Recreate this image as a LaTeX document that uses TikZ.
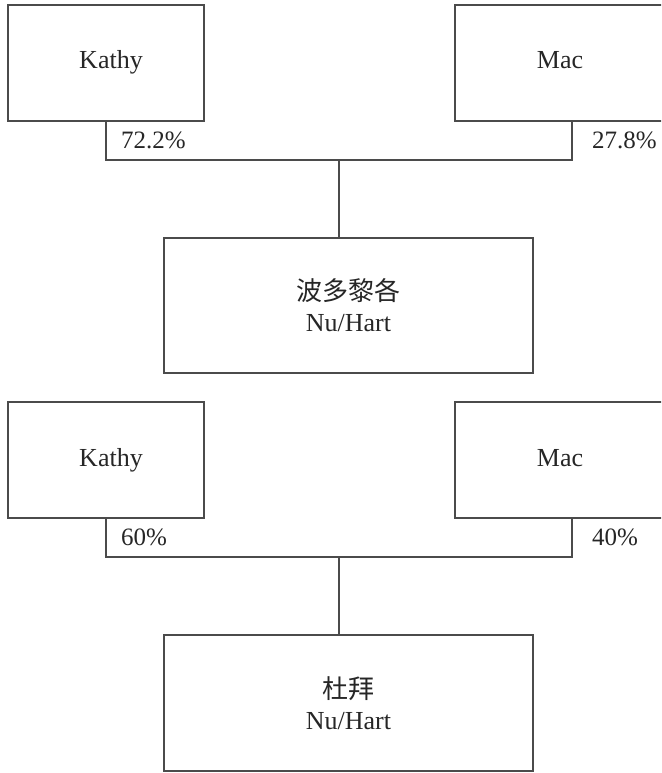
\documentclass[tikz,border=0pt]{standalone}
\usepackage{fontspec}
\setmainfont{Liberation Serif}
\newfontfamily\cjk{Noto Sans CJK SC}
\definecolor{linec}{RGB}{75,75,75}
\begin{document}
\begin{tikzpicture}[x=1pt,y=-1pt,
  boxnode/.style={draw=linec,line width=1.1pt,rectangle,inner sep=0pt,align=center,
    font=\fontsize{26}{31}\selectfont,text=black!85},
  namebox/.style={boxnode,minimum height=116pt,text height=18pt,text depth=6pt},
  pct/.style={inner sep=0pt,anchor=base west,font=\fontsize{25}{28}\selectfont,text=black!85},
  conn/.style={draw=linec,line width=1.1pt}]
\useasboundingbox (0,0) rectangle (661,773);
\clip (0,0) rectangle (661,773);
% top group
\node[namebox,minimum width=196pt] (k1) at (106,63) {\hspace*{10pt}Kathy};
\node[namebox,minimum width=210pt] (m1) at (560,63) {Mac};
\node[boxnode,minimum width=369pt,minimum height=135pt] (h1) at (348.5,305.5) {{\cjk 波多黎各}\\Nu/Hart};
\coordinate (j1) at (339,160);
\draw[conn] (k1.south) |- (j1) -| ([xshift=12pt]m1.south);
\draw[conn] (j1) -- (j1 |- h1.north);
\node[pct] (p1) at (121,148) {72.2\%};
\node[pct] (p2) at (592,148) {27.8\%};
% bottom group
\node[namebox,minimum width=196pt] (k2) at (106,460) {\hspace*{10pt}Kathy};
\node[namebox,minimum width=210pt] (m2) at (560,460) {Mac};
\node[boxnode,minimum width=369pt,minimum height=136pt] (h2) at (348.5,703) {{\cjk 杜拜}\\Nu/Hart};
\coordinate (j2) at (339,557);
\draw[conn] (k2.south) |- (j2) -| ([xshift=12pt]m2.south);
\draw[conn] (j2) -- (j2 |- h2.north);
\node[pct] (p3) at (121,545) {60\%};
\node[pct] (p4) at (592,545) {40\%};
\end{tikzpicture}
\end{document}
